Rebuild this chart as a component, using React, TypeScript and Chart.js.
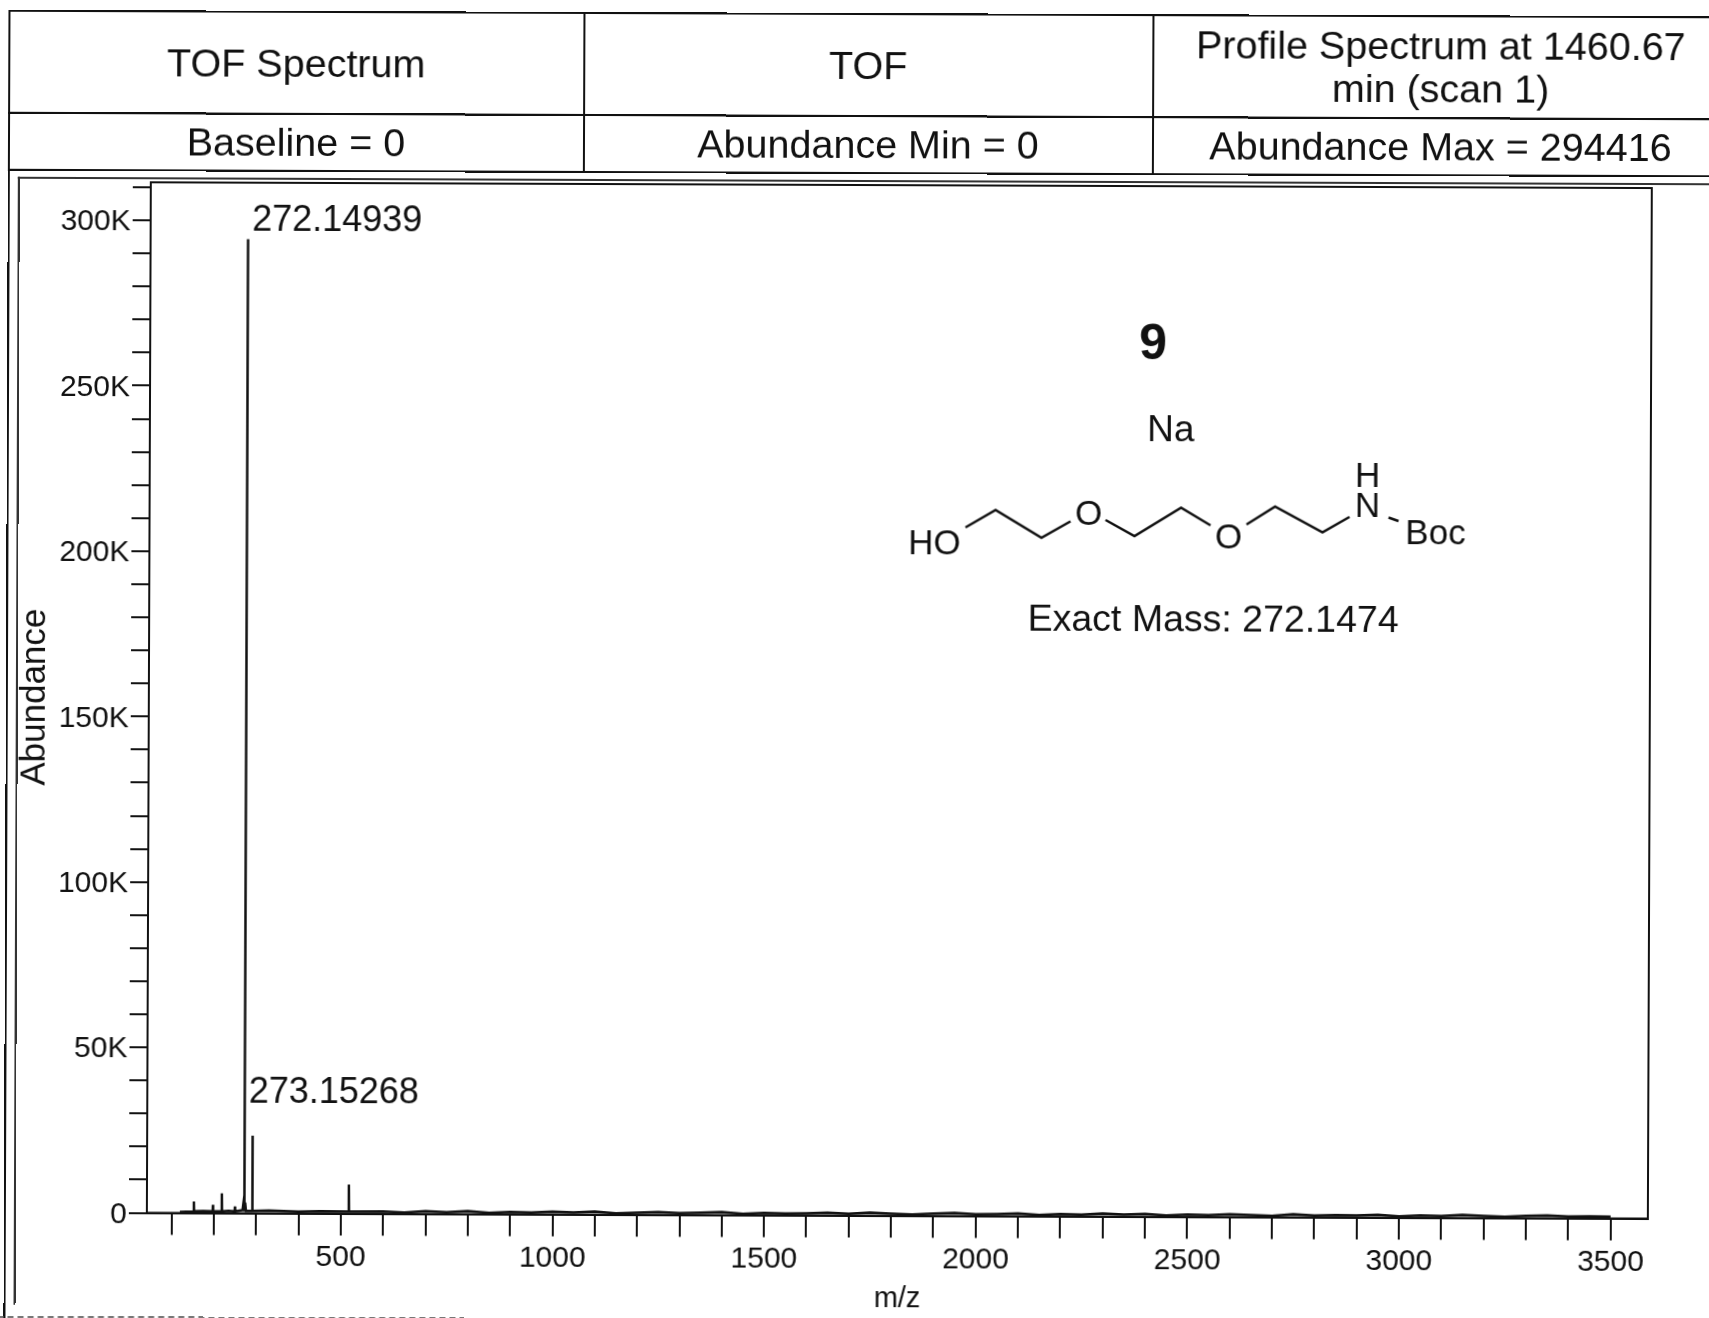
import React, { useEffect, useRef } from "react";
import { Chart, registerables } from "chart.js";

Chart.register(...registerables);

// ---- data ----
const mzValues = [
  120, 150, 152.5, 153, 153.5, 175, 197.5, 198, 198.5, 218.5, 219, 219.5, 235, 249.5, 250, 250.5,
  268, 270, 271.8, 272.15, 272.5, 274, 276, 290.5, 291, 291.5, 330, 400, 450, 518.5, 519, 519.5,
  600, 650, 700, 750, 800, 850, 900, 950, 1000, 1050, 1100, 1150, 1200, 1250, 1300, 1350, 1400, 1450, 1500, 1550,
  1600, 1650, 1700, 1750, 1800, 1850, 1900, 1950, 2000, 2050, 2100, 2150, 2200, 2250, 2300, 2350, 2400, 2450,
  2500, 2550, 2600, 2650, 2700, 2750, 2800, 2850, 2900, 2950, 3000, 3050, 3100, 3150, 3200, 3250, 3300, 3350,
  3400, 3450, 3500,
];
const abundances = [
  300, 450, 500, 3500, 500, 600, 500, 2500, 500, 500, 6000, 500, 700, 500, 2000, 500,
  900, 3000, 900, 294416, 900, 3200, 700, 700, 23400, 700, 800, 500, 700, 600, 8800, 600,
  700, 400, 800, 500, 900, 400, 700, 500, 800, 600, 900, 400, 600, 800, 500, 700, 900, 400, 700, 500,
  600, 800, 500, 900, 600, 400, 700, 900, 500, 600, 800, 400, 700, 500, 900, 600, 800, 400,
  700, 500, 800, 600, 400, 900, 500, 700, 600, 800, 400, 700, 500, 900, 600, 400, 700, 800,
  500, 600, 500,
];
const xTickStep = 100;
const yTickValues = [
  0, 10000, 20000, 30000, 40000, 50000, 60000, 70000, 80000, 90000, 100000, 110000, 120000, 130000, 140000, 150000,
  160000, 170000, 180000, 190000, 200000, 210000, 220000, 230000, 240000, 250000, 260000, 270000, 280000, 290000,
  300000, 310000,
];
const xLabelEvery = 500;
const yLabelEvery = 50000;
const xMin = 42;
const xMax = 3588;
const yMin = 0;
const yMax = 311500;
const xAxisTitle = "m/z";
const yAxisTitle = "Abundance";

const peakLabels = [
  { text: "272.14939", mz: 272.15, abundance: 294416, dx: 4, dy: -18 },
  { text: "273.15268", mz: 291, abundance: 23400, dx: -4, dy: -43 },
];

const headerCells = [
  { lines: ["TOF Spectrum"], left: 5.5, top: 13, width: 577, height: 104 },
  { lines: ["TOF"], left: 580.5, top: 13, width: 571, height: 104 },
  { lines: ["Profile Spectrum at 1460.67", "min (scan 1)"], left: 1149.5, top: 13, width: 578, height: 104 },
  { lines: ["Baseline = 0"], left: 5.5, top: 115, width: 577, height: 59 },
  { lines: ["Abundance Min = 0"], left: 580.5, top: 115, width: 571, height: 59 },
  { lines: ["Abundance Max = 294416"], left: 1149.5, top: 115, width: 578, height: 59 },
];

// structure drawing (schematic inset)
const moleculeBonds = [
  [[965, 527], [995, 509.5], [1041, 537], [1070, 520.5]],
  [[1105, 519], [1134, 535], [1180.5, 506.5], [1210, 524]],
  [[1246, 523], [1274.5, 505], [1322, 530.5], [1349, 515]],
  [[1388, 515.5], [1398, 519]],
];
const moleculeTexts = [
  { text: "9", x: 1152, y: 344, size: 50, bold: true },
  { text: "Na", x: 1170, y: 430, size: 37, bold: false },
  { text: "HO", x: 934, y: 544, size: 35, bold: false },
  { text: "O", x: 1088, y: 514, size: 35, bold: false },
  { text: "O", x: 1228, y: 537, size: 35, bold: false },
  { text: "N", x: 1367, y: 505, size: 35, bold: false },
  { text: "H", x: 1367, y: 475, size: 35, bold: false },
  { text: "Boc", x: 1435, y: 532.5, size: 35, bold: false },
  { text: "Exact Mass: 272.1474", x: 1213, y: 620, size: 37.5, bold: false },
];

const INK = "#111111";
const FONT = "'Liberation Sans', Arial, sans-serif";

const annotationPlugin = {
  id: "annotations",
  afterDraw(chart: any) {
    const { ctx, chartArea, scales } = chart;
    ctx.save();
    // plot frame
    ctx.strokeStyle = INK;
    ctx.lineWidth = 2;
    ctx.strokeRect(chartArea.left, chartArea.top, chartArea.right - chartArea.left, chartArea.bottom - chartArea.top);
    // peak labels
    ctx.fillStyle = INK;
    ctx.textBaseline = "middle";
    ctx.textAlign = "left";
    ctx.font = `36px ${FONT}`;
    for (const p of peakLabels) {
      ctx.fillText(p.text, scales.x.getPixelForValue(p.mz) + p.dx, scales.y.getPixelForValue(p.abundance) + p.dy);
    }
    // structure
    ctx.lineWidth = 2.5;
    ctx.lineJoin = "miter";
    for (const path of moleculeBonds) {
      ctx.beginPath();
      path.forEach(([x, y], i) => (i ? ctx.lineTo(x, y) : ctx.moveTo(x, y)));
      ctx.stroke();
    }
    ctx.textAlign = "center";
    for (const t of moleculeTexts) {
      ctx.font = `${t.bold ? "bold " : ""}${t.size}px ${FONT}`;
      ctx.fillText(t.text, t.x, t.y);
    }
    ctx.restore();
  },
};

export default function App() {
  const canvasRef = useRef<HTMLCanvasElement | null>(null);

  useEffect(() => {
    const chart = new Chart(canvasRef.current as HTMLCanvasElement, {
      type: "line",
      data: {
        datasets: [
          {
            label: "Abundance",
            data: mzValues.map((x, i) => ({ x, y: abundances[i] })),
            borderColor: INK,
            borderWidth: 2.5,
            pointRadius: 0,
            tension: 0,
          },
        ],
      },
      options: {
        animation: false,
        responsive: false,
        devicePixelRatio: 1,
        layout: { padding: { top: 185, right: 59, left: 0, bottom: 0 }, autoPadding: false },
        plugins: { legend: { display: false }, tooltip: { enabled: false } },
        scales: {
          x: {
            type: "linear",
            min: xMin,
            max: xMax,
            afterFit: (s: any) => {
              s.height = 102.5;
            },
            border: { color: INK, width: 2 },
            grid: { drawOnChartArea: false, color: INK, lineWidth: 2, tickLength: 22 },
            ticks: {
              stepSize: xTickStep,
              includeBounds: false,
              autoSkip: false,
              maxRotation: 0,
              padding: 4,
              color: INK,
              font: { family: FONT, size: 30 },
              callback: (v: any) => (Number(v) % xLabelEvery === 0 ? String(v) : ""),
            },
            title: {
              display: true,
              text: xAxisTitle,
              color: INK,
              font: { family: FONT, size: 29 },
              padding: { top: 0, bottom: 2 },
            },
          },
          y: {
            type: "linear",
            min: yMin,
            max: yMax,
            afterFit: (s: any) => {
              s.width = 149;
            },
            afterBuildTicks: (s: any) => {
              s.ticks = yTickValues.map((value) => ({ value }));
            },
            border: { color: INK, width: 2 },
            grid: { drawOnChartArea: false, color: INK, lineWidth: 2, tickLength: 18 },
            ticks: {
              autoSkip: false,
              padding: 2,
              labelOffset: 2,
              color: INK,
              font: { family: FONT, size: 30 },
              callback: (v: any) => {
                const n = Number(v);
                if (n % yLabelEvery !== 0) return "";
                return n === 0 ? "0" : `${n / 1000}K`;
              },
            },
            title: {
              display: true,
              text: yAxisTitle,
              color: INK,
              font: { family: FONT, size: 35 },
              padding: { top: 14, bottom: 0 },
            },
          },
        },
      },
      plugins: [annotationPlugin],
    } as any);
    return () => chart.destroy();
  }, []);

  return (
    <div style={{ position: "fixed", left: 0, top: 0, width: 1709, height: 1318, overflow: "hidden", background: "#fff" }}>
      <div style={{ position: "absolute", left: 0, top: 0, width: 1709, height: 1318, transform: "rotate(0.22deg)", transformOrigin: "854.5px 659px" }}>
        <canvas ref={canvasRef} width={1709} height={1318} style={{ display: "block", position: "absolute", left: 0, top: 0 }} />
        {headerCells.map((c, i) => (
          <div
            key={i}
            style={{
              position: "absolute",
              left: c.left,
              top: c.top,
              width: c.width,
              height: c.height,
              boxSizing: "border-box",
              border: `2px solid ${INK}`,
              display: "flex",
              flexDirection: "column",
              alignItems: "center",
              justifyContent: "center",
              fontFamily: FONT,
              fontSize: 39.5,
              lineHeight: "43px",
              color: INK,
              background: "transparent",
            }}
          >
            {c.lines.map((l, j) => (
              <div key={j} style={{ whiteSpace: "nowrap" }}>{l}</div>
            ))}
          </div>
        ))}
        {/* page frame lines of the printout */}
        <div style={{ position: "absolute", left: 5.5, top: 174, width: 2, height: 1160, background: INK }} />
        <div style={{ position: "absolute", left: 15.5, top: 179.5, width: 2, height: 1128, background: "#333" }} />
        <div style={{ position: "absolute", left: 15.5, top: 179.5, width: 1720, height: 2, background: "#333" }} />
        <div style={{ position: "absolute", left: 0, top: 1319, width: 900, borderTop: "2px dashed #777" }} />
      </div>
    </div>
  );
}
